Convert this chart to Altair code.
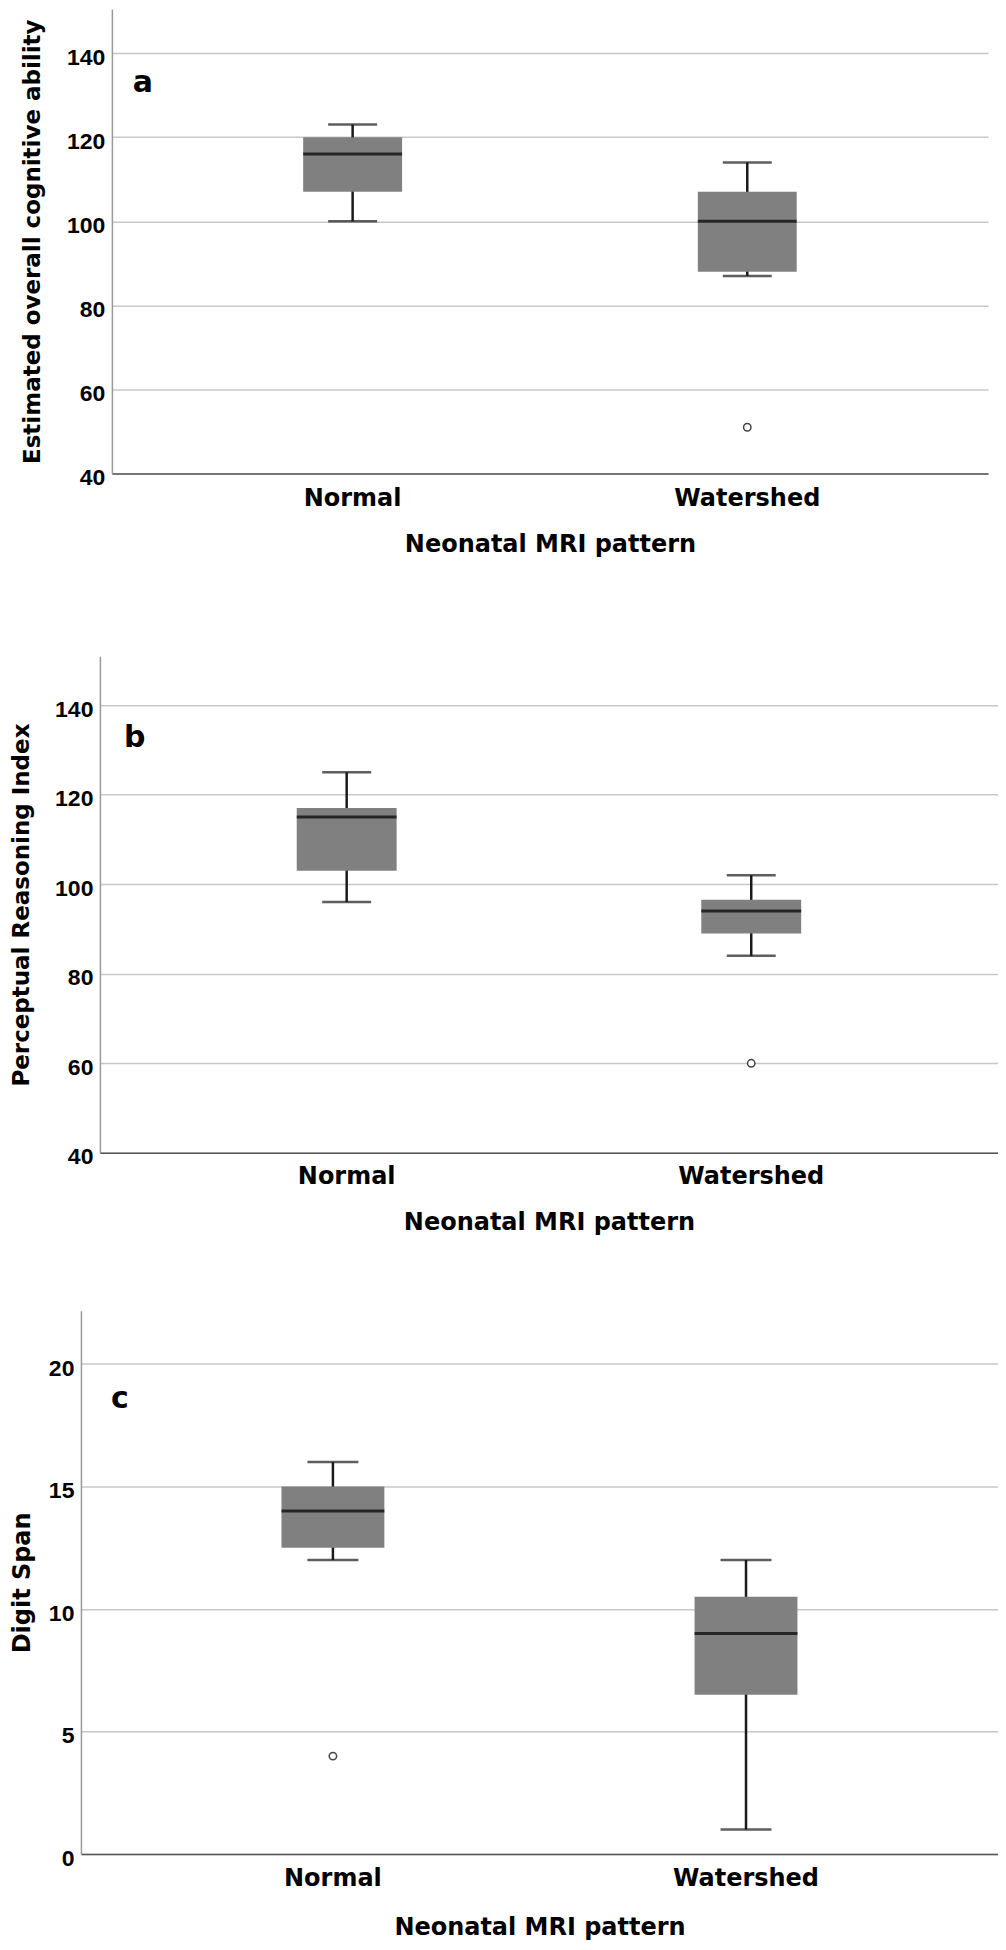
import altair as alt
import pandas as pd

groups = ["Normal", "Watershed"]

# Panel a: Estimated overall cognitive ability
a_low = [100, 87]
a_q1 = [107, 88]
a_median = [116, 100]
a_q3 = [120, 107]
a_high = [123, 114]
a_out_group = ["Watershed"]
a_out_value = [51]
a_ticks = [40, 60, 80, 100, 120, 140]

# Panel b: Perceptual Reasoning Index
b_low = [96, 84]
b_q1 = [103, 89]
b_median = [115, 94]
b_q3 = [117, 96.5]
b_high = [125, 102]
b_out_group = ["Watershed"]
b_out_value = [60]
b_ticks = [40, 60, 80, 100, 120, 140]

# Panel c: Digit Span
c_low = [12, 1]
c_q1 = [12.5, 6.5]
c_median = [14, 9]
c_q3 = [15, 10.5]
c_high = [16, 12]
c_out_group = ["Normal"]
c_out_value = [4]
c_ticks = [0, 5, 10, 15, 20]

TICK_FONT = "Liberation Sans"
TEXT_FONT = "DejaVu Sans"

one = pd.DataFrame({"k": [0]})


def make_panel(letter, ytitle, low, q1, med, q3, high, out_g, out_v, ticks,
               domain, width, height, box_w, cap_w, left_rule, bottom_rule,
               title_x, ytitle_size, label_pad, xtitle_y, letter_x, letter_y):
    stats = pd.DataFrame({"group": groups, "low": low, "q1": q1,
                          "median": med, "q3": q3, "high": high})
    outl = pd.DataFrame({"group": out_g, "value": out_v})

    xenc = alt.X(
        "group:N", sort=groups,
        scale=alt.Scale(domain=groups, paddingInner=0, paddingOuter=0.11),
        axis=alt.Axis(
            title="Neonatal MRI pattern", labelAngle=0, ticks=False, tickSize=0,
            grid=False, domainColor="#555555", domainWidth=1.5,
            labelFont=TEXT_FONT, labelFontWeight="bold", labelFontSize=24,
            labelColor="black", labelPadding=label_pad, labelBaseline="alphabetic",
            titleFont=TEXT_FONT, titleFontWeight="bold", titleFontSize=24,
            titleColor="black", titleY=xtitle_y, titleBaseline="alphabetic",
        ),
    )
    yscale = alt.Scale(domain=domain, nice=False, zero=False)
    yaxis = alt.Axis(
        values=ticks, grid=True, gridColor="#c8c8c8", gridWidth=1.5,
        ticks=False, tickSize=0, domainColor="#999999", domainWidth=1.5,
        labelFont=TICK_FONT, labelFontWeight="bold", labelFontSize=23,
        labelColor="black", labelPadding=7, labelOffset=4,
        titleFont=TEXT_FONT, titleFontWeight="bold", titleFontSize=ytitle_size,
        titleColor="black", titleX=-title_x, titleBaseline="bottom",
    )

    def Y(field):
        return alt.Y(f"{field}:Q", scale=yscale, axis=yaxis, title=ytitle)

    base = alt.Chart(stats)
    spacer = alt.Chart(one).mark_rule(opacity=0).encode(
        x=alt.value(-left_rule), x2=alt.value(-left_rule),
        y=alt.value(0), y2=alt.value(bottom_rule))
    whisker = base.mark_rule(color="#1a1a1a", strokeWidth=2.5).encode(
        x=xenc, y=Y("low"), y2=alt.Y2("high"))
    box = base.mark_bar(size=box_w, color="#808080").encode(
        x=xenc, y=Y("q1"), y2=alt.Y2("q3"))
    cap_lo = base.mark_tick(size=cap_w, thickness=2.5, color="#1a1a1a").encode(
        x=xenc, y=Y("low"))
    cap_hi = base.mark_tick(size=cap_w, thickness=2.5, color="#1a1a1a").encode(
        x=xenc, y=Y("high"))
    median = base.mark_tick(size=box_w, thickness=3, color="black").encode(
        x=xenc, y=Y("median"))
    outliers = alt.Chart(outl).mark_point(
        shape="circle", filled=False, size=55, strokeWidth=1.5,
        color="#444444", fill="white", fillOpacity=1).encode(
        x=xenc, y=Y("value"))
    label = alt.Chart(one).mark_text(
        text=letter, font=TEXT_FONT, fontWeight="bold", fontSize=30,
        align="left", baseline="alphabetic", color="black").encode(
        x=alt.value(letter_x), y=alt.value(letter_y))

    return alt.layer(spacer, whisker, box, cap_lo, cap_hi, median, outliers, label).properties(
        width=width, height=height)


def spacer_chart(w):
    return alt.Chart(one).mark_rule(opacity=0).encode(
        x=alt.value(0), x2=alt.value(w), y=alt.value(0)).properties(width=w, height=1)


pa = make_panel("a", "Estimated overall cognitive ability", a_low, a_q1, a_median, a_q3, a_high,
                a_out_group, a_out_value, a_ticks, [40, 150.5], 877, 465, 99, 49,
                96, 648, 67, 23, 32, 78.5, 21, 83)
pb = make_panel("b", "Perceptual Reasoning Index", b_low, b_q1, b_median, b_q3, b_high,
                b_out_group, b_out_value, b_ticks, [40, 150.9], 899, 497, 100, 49,
                91, 655, 66.7, 23, 30.6, 77.2, 24, 91)
pc = make_panel("c", "Digit Span", c_low, c_q1, c_median, c_q3, c_high,
                c_out_group, c_out_value, c_ticks, [0, 22.18], 918, 544, 103, 51,
                72, 544, 46, 24, 31.5, 80.5, 30, 97)

row_a = alt.hconcat(spacer_chart(8), pa, spacing=0)
row_b = alt.hconcat(spacer_chart(1), pb, spacing=0)
row_c = alt.hconcat(spacer_chart(1), pc, spacing=0)

chart = alt.vconcat(row_a, row_b, row_c, spacing=0).properties(
    padding=0, background="white"
).configure_view(strokeWidth=0)

chart.save("out.html", embed_options={"renderer": "svg", "actions": False})
